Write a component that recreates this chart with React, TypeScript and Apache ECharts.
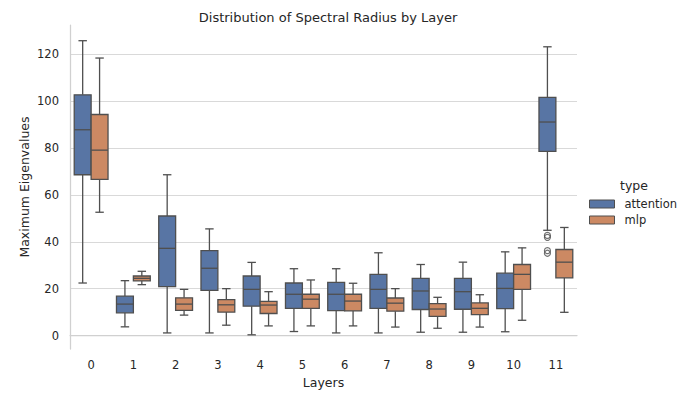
import React, { useEffect, useRef } from "react";
import * as echarts from "echarts";

const layers = ["0", "1", "2", "3", "4", "5", "6", "7", "8", "9", "10", "11"];
// [low whisker, Q1, median, Q3, high whisker]
const attentionStats = [
  [22.4, 68.6, 87.8, 102.7, 125.8],
  [3.7, 9.7, 13.4, 16.8, 23.4],
  [1.1, 20.9, 37.2, 51.0, 68.6],
  [1.1, 19.3, 28.7, 36.2, 45.5],
  [0.3, 12.5, 19.7, 25.4, 31.2],
  [1.7, 11.6, 17.6, 22.4, 28.5],
  [1.1, 10.6, 17.6, 22.7, 28.5],
  [1.1, 11.6, 19.7, 26.1, 35.3],
  [1.4, 11.1, 19.0, 24.4, 30.3],
  [1.4, 11.2, 18.7, 24.4, 31.3],
  [1.6, 11.5, 20.1, 26.6, 35.7],
  [44.9, 78.6, 91.1, 101.6, 123.2],
];
const mlpStats = [
  [52.6, 66.6, 79.1, 94.3, 118.4],
  [21.7, 23.3, 24.4, 25.4, 27.4],
  [8.7, 10.7, 13.4, 16.1, 19.7],
  [4.4, 10.0, 13.1, 15.3, 20.0],
  [4.1, 9.4, 13.0, 14.6, 18.7],
  [4.1, 11.6, 15.5, 17.6, 23.7],
  [4.1, 10.5, 14.7, 17.6, 22.3],
  [3.6, 10.4, 13.8, 16.0, 20.0],
  [3.1, 8.2, 11.3, 13.6, 16.3],
  [3.6, 8.9, 11.6, 13.9, 17.4],
  [6.5, 19.7, 26.1, 30.3, 37.4],
  [9.9, 24.6, 31.3, 36.7, 46.1],
];
// outliers: [layer index, value]
const attentionOutliers = [
  [11, 42.7],
  [11, 41.9],
  [11, 36.2],
  [11, 35.1],
];
const mlpOutliers: number[][] = [];

const COLORS = { attention: "#5875A4", mlp: "#CC8963" };
const EDGE = "#4f4f4f";
const FONT = "DejaVu Sans";

function boxSeries(name: string, stats: number[][], color: string, offsetFrac: number) {
  return {
    type: "custom",
    name,
    z: 3,
    itemStyle: { color, borderColor: EDGE, borderWidth: 1 },
    encode: { x: 0, y: [1, 2, 3, 4, 5] },
    data: stats.map((s, i) => [i, ...s]),
    renderItem: (params: any, api: any) => {
      const xi = api.value(0);
      const band = api.size([1, 0])[0];
      const w = band * 0.4;
      const base = api.coord([xi, api.value(3)]);
      const cx = base[0] + offsetFrac * band;
      const yLow = api.coord([xi, api.value(1)])[1];
      const yQ1 = api.coord([xi, api.value(2)])[1];
      const yMed = api.coord([xi, api.value(3)])[1];
      const yQ3 = api.coord([xi, api.value(4)])[1];
      const yHigh = api.coord([xi, api.value(5)])[1];
      const ls = { stroke: EDGE, lineWidth: 1.3 };
      return {
        type: "group",
        children: [
          { type: "line", shape: { x1: cx, y1: yLow, x2: cx, y2: yQ1 }, style: ls },
          { type: "line", shape: { x1: cx, y1: yQ3, x2: cx, y2: yHigh }, style: ls },
          { type: "line", shape: { x1: cx - w / 4, y1: yLow, x2: cx + w / 4, y2: yLow }, style: ls },
          { type: "line", shape: { x1: cx - w / 4, y1: yHigh, x2: cx + w / 4, y2: yHigh }, style: ls },
          {
            type: "rect",
            shape: { x: cx - w / 2, y: yQ3, width: w, height: yQ1 - yQ3 },
            style: { fill: color, stroke: EDGE, lineWidth: 1.3 },
          },
          { type: "line", shape: { x1: cx - w / 2, y1: yMed, x2: cx + w / 2, y2: yMed }, style: ls },
        ],
      };
    },
  };
}

function outlierSeries(name: string, pts: number[][], offsetPx: number) {
  return {
    type: "scatter",
    name,
    z: 4,
    symbol: "circle",
    symbolSize: 6,
    symbolOffset: [offsetPx, 0],
    itemStyle: { color: "rgba(0,0,0,0)", borderColor: EDGE, borderWidth: 1.2 },
    data: pts,
  };
}

export default function App() {
  const ref = useRef<HTMLDivElement>(null);
  useEffect(() => {
    if (!ref.current) return;
    const chart = echarts.init(ref.current, undefined, { renderer: "svg" });
    const gridColors = ["rgba(0,0,0,0)", "#d9d9d9", "#d9d9d9", "#d9d9d9", "#d9d9d9", "#d9d9d9", "#d9d9d9", "#d9d9d9", "rgba(0,0,0,0)"];
    chart.setOption({
      animation: false,
      backgroundColor: "#ffffff",
      textStyle: { fontFamily: FONT },
      title: [
        {
          text: "Distribution of Spectral Radius by Layer",
          left: 323,
          textAlign: "center",
          top: 6,
          textStyle: { fontFamily: FONT, fontSize: 13, fontWeight: "normal", color: "#262626" },
        },
        {
          text: "type",
          left: 615,
          top: 174,
          textStyle: { fontFamily: FONT, fontSize: 12.5, fontWeight: "normal", color: "#262626" },
        },
      ],
      legend: {
        orient: "vertical",
        left: 584,
        top: 193,
        itemWidth: 25,
        itemHeight: 8,
        itemGap: 4,
        icon: "rect",
        data: [
          { name: "attention", itemStyle: { color: COLORS.attention, borderColor: EDGE, borderWidth: 1 } },
          { name: "mlp", itemStyle: { color: COLORS.mlp, borderColor: EDGE, borderWidth: 1 } },
        ],
        textStyle: { fontFamily: FONT, fontSize: 11.5, color: "#262626", padding: [0, 0, 0, 5] },
      },
      grid: { left: 70, right: 120, top: 25, bottom: 43.7 },
      xAxis: {
        type: "category",
        data: layers,
        boundaryGap: true,
        name: "Layers",
        nameLocation: "middle",
        nameGap: 26,
        nameTextStyle: { fontFamily: FONT, fontSize: 12.5, color: "#262626" },
        axisLine: { lineStyle: { color: "#d0d0d0", width: 1.25 } },
        axisTick: { show: false },
        axisLabel: { fontFamily: FONT, fontSize: 11.5, color: "#262626", margin: 10 },
        splitLine: { show: false },
      },
      yAxis: {
        type: "value",
        min: -5.8,
        max: 132.5,
        minInterval: 20,
        maxInterval: 20,
        name: "Maximum Eigenvalues",
        nameLocation: "middle",
        nameGap: 39,
        nameMoveOverlap: false,
        nameTextStyle: { fontFamily: FONT, fontSize: 12.5, color: "#262626" },
        axisLine: { show: true, lineStyle: { color: "#d0d0d0", width: 1.25 } },
        axisTick: { show: false },
        axisLabel: {
          fontFamily: FONT,
          fontSize: 11.5,
          color: "#262626",
          margin: 11,
          showMinLabel: false,
          showMaxLabel: false,
        },
        splitLine: { show: true, lineStyle: { color: gridColors, width: 1 } },
      },
      series: [
        boxSeries("attention", attentionStats, COLORS.attention, -0.2),
        boxSeries("mlp", mlpStats, COLORS.mlp, 0.2),
        outlierSeries("attention outliers", attentionOutliers, -8.45),
        outlierSeries("mlp outliers", mlpOutliers, 8.45),
      ],
    });
    return () => chart.dispose();
  }, []);
  return <div ref={ref} style={{ width: 697, height: 394, position: "absolute", left: 0, top: 0 }} />;
}
